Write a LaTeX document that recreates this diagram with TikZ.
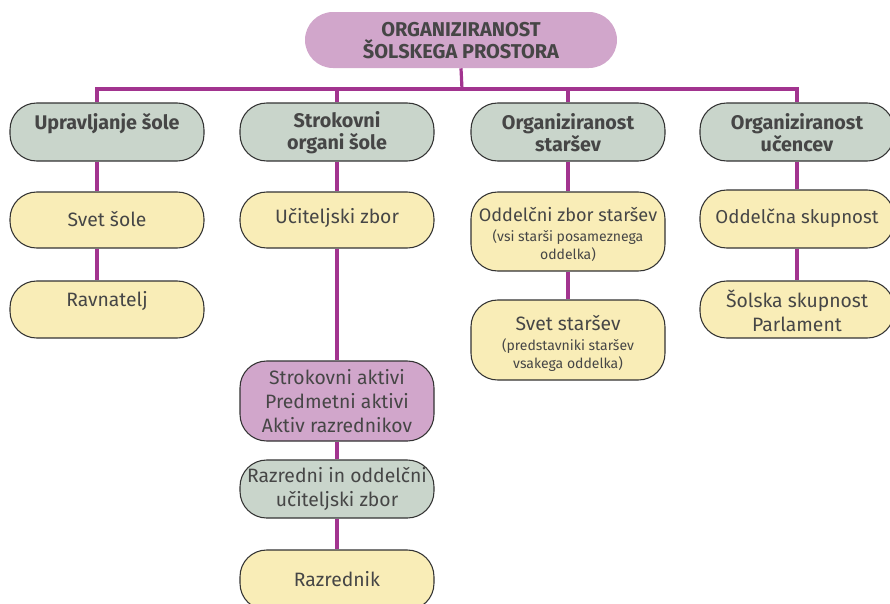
\documentclass[tikz,border=0pt]{standalone}
\usepackage{fontspec}
\setmainfont{Fira Sans}
\usetikzlibrary{backgrounds}
\definecolor{pinkfill}{HTML}{D1A6CB}
\definecolor{greenfill}{HTML}{C9D5CB}
\definecolor{yellowfill}{HTML}{F9EDB7}
\definecolor{linepurple}{HTML}{A2348F}
\definecolor{txtgrey}{HTML}{464646}
\definecolor{edgegrey}{HTML}{333333}
\begin{document}
\begin{tikzpicture}[x=0.75pt,y=-0.75pt,
  box/.style={rectangle, rounded corners=20pt, draw=edgegrey, line width=0.8pt, minimum width=145.5pt, inner sep=0pt},
  hbox/.style={box, fill=greenfill, minimum height=43.5pt},
  ybox/.style={box, fill=yellowfill},
  txt/.style={text=txtgrey, align=center, inner sep=0pt, font=\fontsize{14.5}{18}\selectfont},
  htxt/.style={text=txtgrey, align=center, inner sep=0pt, font=\bfseries\fontsize{14.8}{16.5}\selectfont},
  stxt/.style={text=txtgrey, align=center, inner sep=0pt, font=\fontsize{10.5}{13.5}\selectfont},
  conn/.style={draw=linepurple, line width=2.4pt}]
\useasboundingbox (0,0) rectangle (890,604);

% top
\node[rectangle, rounded corners=21pt, fill=pinkfill, minimum width=234pt, minimum height=42pt, inner sep=0pt] (top) at (461,40) {};
\node[htxt, font=\bfseries\fontsize{15}{16.5}\selectfont] (ttop) at (461,41) {ORGANIZIRANOST\\ŠOLSKEGA PROSTORA};

% headers
\node[hbox] (h1) at (107,132) {};
\node[htxt] (th1) at (107,124) {Upravljanje šole};
\node[hbox] (h2) at (337,132) {};
\node[htxt] (th2) at (337,133) {Strokovni\\organi šole};
\node[hbox] (h3) at (568,132) {};
\node[htxt] (th3) at (568,133) {Organiziranost\\staršev};
\node[hbox] (h4) at (797,132) {};
\node[htxt] (th4) at (797,133) {Organiziranost\\učencev};

% column 1
\node[ybox, minimum height=42pt] (a1) at (107,220) {};
\node[txt] (ta1) at (107,219) {Svet šole};
\node[ybox, minimum height=42.75pt] (a2) at (107,309.5) {};
\node[txt] (ta2) at (107,301) {Ravnatelj};

% column 2
\node[ybox, minimum height=42pt] (b1) at (337,220) {};
\node[txt] (tb1) at (337,218) {Učiteljski zbor};
\node[box, fill=pinkfill, minimum height=60pt] (b2) at (337,401) {};
\node[txt] (tb2) at (337,401) {Strokovni aktivi\\Predmetni aktivi\\Aktiv razrednikov};
\node[box, fill=greenfill, minimum height=43.5pt] (b3) at (337,489) {};
\node[txt] (tb3) at (337,489) {Razredni in oddelčni\\učiteljski zbor};
\node[ybox, minimum height=45pt] (b4) at (337,580) {};
\node[txt] (tb4) at (337,579) {Razrednik};

% column 3
\node[ybox, minimum height=59.25pt] (c1) at (568,231.5) {};
\node[txt, font=\fontsize{13.6}{18}\selectfont] (tc1) at (568,214) {Oddelčni zbor staršev};
\node[stxt] (sc1) at (568,246) {(vsi starši posameznega\\oddelka)};
\node[ybox, minimum height=60pt] (c2) at (568,340) {};
\node[txt] (tc2) at (568,323) {Svet staršev};
\node[stxt] (sc2) at (568,355) {(predstavniki staršev\\vsakega oddelka)};

% column 4
\node[ybox, minimum height=43.5pt] (d1) at (797,219) {};
\node[txt, font=\fontsize{14}{18}\selectfont] (td1) at (797,218) {Oddelčna skupnost};
\node[ybox, minimum height=42.75pt] (d2) at (797,309.5) {};
\node[txt] (td2) at (797,311) {Šolska skupnost\\Parlament};

\begin{pgfonlayer}{background}
\coordinate (bus) at (462,89);
\draw[conn] (top.south) -- (bus);
\draw[conn] ([xshift=-7.5pt]h1.north) |- (bus) -| (h4.north);
\draw[conn] (h2.north) -- (h2.north |- bus);
\draw[conn] (h3.north) -- (h3.north |- bus);
\draw[conn] ([xshift=-7.5pt]h1.south) -- ([xshift=-7.5pt]a1.north);
\draw[conn] ([xshift=-7.5pt]a1.south) -- ([xshift=-7.5pt]a2.north);
\draw[conn] (h2.south) -- (b1.north);
\draw[conn] (b1.south) -- (b2.north);
\draw[conn] (b2.south) -- (b3.north);
\draw[conn] (b3.south) -- (b4.north);
\draw[conn] (h3.south) -- (c1.north);
\draw[conn] (c1.south) -- (c2.north);
\draw[conn] (h4.south) -- (d1.north);
\draw[conn] (d1.south) -- (d2.north);
\end{pgfonlayer}
\end{tikzpicture}
\end{document}
